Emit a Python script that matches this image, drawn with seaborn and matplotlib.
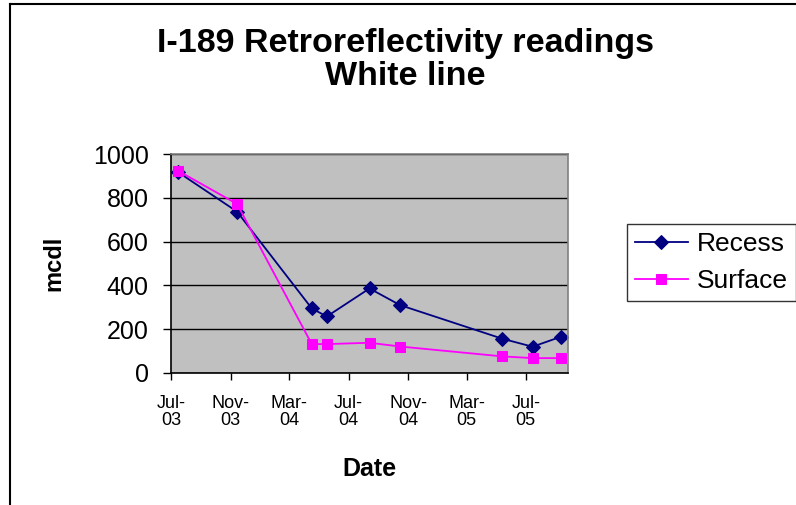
import pandas as pd
import numpy as np
import matplotlib
matplotlib.use("Agg")
import matplotlib.pyplot as plt
import matplotlib.dates as mdates
from matplotlib.lines import Line2D
import seaborn as sns

# DATA
dates = ["2003-07-15", "2003-11-14", "2004-04-16", "2004-05-17", "2004-08-13",
         "2004-10-15", "2005-05-13", "2005-07-15", "2005-09-12"]
recess = [918, 737, 295, 258, 386, 310, 157, 120, 166]
surface = [924, 772, 132, 132, 138, 121, 76, 68, 68]
series = ["Recess", "Surface"]

df = pd.DataFrame({"Date": pd.to_datetime(dates), "Recess": recess, "Surface": surface})
long = df.melt(id_vars="Date", value_vars=series, var_name="Series", value_name="mcdl")

plt.rcParams['font.family'] = ['Liberation Sans', 'DejaVu Sans']

fig = plt.figure(figsize=(7.96, 5.05), dpi=100)
ax = fig.add_axes([171 / 796, 1 - 373 / 505, 397 / 796, 219 / 505])

palette = {"Recess": "#000080", "Surface": "#FF00FF"}
sns.lineplot(data=long, x="Date", y="mcdl", hue="Series", style="Series",
             markers={"Recess": "D", "Surface": "s"}, dashes=False,
             palette=palette, hue_order=series, style_order=series,
             lw=1.3, markersize=7, legend=False, ax=ax)

for line, name in zip(ax.lines, series):
    line.set_markeredgecolor(palette[name])
    line.set_markerfacecolor(palette[name])
    line.set_label(name)
    line.set_clip_on(False)

ax.set_facecolor("#C0C0C0")
ax.set_ylim(0, 1000)
ax.set_yticks(range(0, 1001, 200))
ax.set_xlim(pd.Timestamp("2003-07-01"), pd.Timestamp("2005-09-26"))
ax.xaxis.set_major_locator(mdates.MonthLocator(bymonth=[3, 7, 11]))
ax.xaxis.set_major_formatter(mdates.DateFormatter("%b-\n%y"))
ax.grid(axis='y', color='black', lw=1)
ax.grid(axis='x', visible=False)
ax.set_axisbelow(True)

for side in ["top", "right"]:
    ax.spines[side].set_color("#808080")
    ax.spines[side].set_linewidth(1.2)
for side in ["left", "bottom"]:
    ax.spines[side].set_color("black")
    ax.spines[side].set_linewidth(1.2)

ax.tick_params(axis='y', labelsize=18, length=6, width=1, pad=10)
ax.tick_params(axis='x', labelsize=13, length=5, width=1, pad=11)
for lbl in ax.get_xticklabels():
    lbl.set_linespacing(1.0)

ax.set_xlabel("Date", fontsize=18, weight='bold', labelpad=20)
ax.set_ylabel("mcdl", fontsize=17, weight='bold', labelpad=20)

fig.text(0.509, 1 - 52 / 505, "I-189 Retroreflectivity readings", ha='center', va='baseline',
         fontsize=24.5, weight='bold')
fig.text(0.509, 1 - 85 / 505, "White line", ha='center', va='baseline',
         fontsize=24.5, weight='bold')

leg = ax.legend(loc='upper left', bbox_to_anchor=(627 / 796, 1 - 224 / 505),
                bbox_transform=fig.transFigure, fontsize=19, frameon=True,
                fancybox=False, handlelength=2.0, borderaxespad=0,
                borderpad=0.3, labelspacing=0.5, handletextpad=0.35)
leg.get_frame().set_edgecolor("black")
leg.get_frame().set_linewidth(1)

# chart border (left and top edges visible in the reference)
fig.add_artist(Line2D([10 / 796, 10 / 796], [0, 1 - 4 / 505], color='black', lw=1.5))
fig.add_artist(Line2D([10 / 796, 1], [1 - 4 / 505, 1 - 4 / 505], color='black', lw=1.5))

fig.savefig("out.png", dpi=100)
